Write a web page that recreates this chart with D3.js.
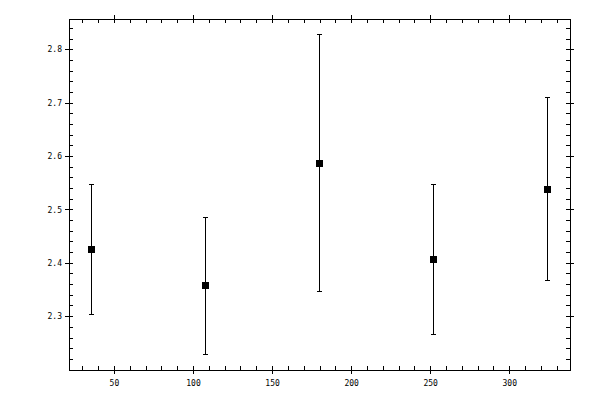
<!DOCTYPE html>
<html lang="en">
<head>
  <meta charset="UTF-8">
  <title>Error bars</title>
  <script src="https://d3js.org/d3.v7.min.js"></script>
  <style>
    body { margin: 0; background: #fff; }
    svg text { font-family: "DejaVu Sans Mono", monospace; font-size: 8px; fill: #000; }
  </style>
</head>
<body>
<div class="canvas"></div>
<script>
  // data
  const xs = [36, 108, 180, 252, 324]
  const means = [2.425, 2.357, 2.587, 2.406, 2.538]
  const errs = [0.122, 0.128, 0.240, 0.141, 0.172]
  const xTicks = [50, 100, 150, 200, 250, 300]
  const yTicks = [2.3, 2.4, 2.5, 2.6, 2.7, 2.8]

  const W = 600, H = 400
  const m = { top: 19, right: 30, bottom: 30, left: 69 }
  const w = W - m.left - m.right
  const h = H - m.top - m.bottom

  const data = xs.map((x, i) => ({ x, y: means[i], e: errs[i] }))

  // 5% padding round the data, like the reference
  const pad = (lo, hi) => { const p = (hi - lo) * 0.05; return [lo - p, hi + p] }
  const xExt = d3.extent(xs)
  const yLo = d3.min(data, d => d.y - d.e)
  const yHi = d3.max(data, d => d.y + d.e)

  const x = d3.scaleLinear().domain(pad(xExt[0], xExt[1])).range([0, w])
  const y = d3.scaleLinear().domain(pad(yLo, yHi)).range([h, 0])

  const svg = d3.select('.canvas')
    .append('svg')
    .attr('width', W)
    .attr('height', H)
  const g = svg.append('g')
    .attr('transform', `translate(${m.left}, ${m.top})`)
    .attr('shape-rendering', 'crispEdges')

  const xMinor = x.ticks(30).filter(v => !xTicks.includes(v))
  const yMinor = y.ticks(30).filter(v => !yTicks.some(t => Math.abs(t - v) < 1e-9))

  // minor ticks, inside only
  const minorAxis = (axis, vals, t) => {
    const a = g.append('g').attr('transform', t)
      .call(axis.tickValues(vals).tickSize(-4).tickFormat(''))
    a.select('.domain').remove()
  }
  minorAxis(d3.axisBottom(x), xMinor, `translate(0,${h})`)
  minorAxis(d3.axisTop(x), xMinor, 'translate(0,0)')
  minorAxis(d3.axisLeft(y), yMinor, 'translate(0,0)')
  minorAxis(d3.axisRight(y), yMinor, `translate(${w},0)`)

  // major ticks cross the frame
  const gxb = g.append('g').attr('transform', `translate(0,${h})`)
    .call(d3.axisBottom(x).tickValues(xTicks).tickSize(4).tickPadding(6).tickFormat(d3.format('d')))
  gxb.selectAll('.tick line').attr('y1', -4)
  const gxt = g.append('g')
    .call(d3.axisTop(x).tickValues(xTicks).tickSize(4).tickFormat(''))
  gxt.selectAll('.tick line').attr('y1', 4)
  const gyl = g.append('g')
    .call(d3.axisLeft(y).tickValues(yTicks).tickSize(4).tickPadding(3).tickFormat(d3.format('.1f')))
  gyl.selectAll('.tick line').attr('x1', 4)
  const gyr = g.append('g').attr('transform', `translate(${w},0)`)
    .call(d3.axisRight(y).tickValues(yTicks).tickSize(4).tickFormat(''))
  gyr.selectAll('.tick line').attr('x1', -4)

  g.selectAll('.domain').remove()
  g.selectAll('.tick text').attr('font-family', null).attr('font-size', null)

  // frame
  g.append('rect')
    .attr('width', w)
    .attr('height', h)
    .attr('fill', 'none')
    .attr('stroke', '#000')

  // error bars
  const bars = g.selectAll('.bar')
    .data(data)
    .enter()
    .append('g')
    .attr('class', 'bar')
    .attr('stroke', '#000')
  bars.append('line')
    .attr('x1', d => x(d.x)).attr('x2', d => x(d.x))
    .attr('y1', d => y(d.y - d.e)).attr('y2', d => y(d.y + d.e))
  bars.append('line')
    .attr('x1', d => x(d.x) - 2.5).attr('x2', d => x(d.x) + 2.5)
    .attr('y1', d => y(d.y + d.e)).attr('y2', d => y(d.y + d.e))
  bars.append('line')
    .attr('x1', d => x(d.x) - 2.5).attr('x2', d => x(d.x) + 2.5)
    .attr('y1', d => y(d.y - d.e)).attr('y2', d => y(d.y - d.e))

  // square markers
  g.selectAll('.pt')
    .data(data)
    .enter()
    .append('rect')
    .attr('class', 'pt')
    .attr('x', d => x(d.x) - 3.5)
    .attr('y', d => y(d.y) - 3.5)
    .attr('width', 7)
    .attr('height', 7)
    .attr('fill', '#000')
</script>
</body>
</html>
